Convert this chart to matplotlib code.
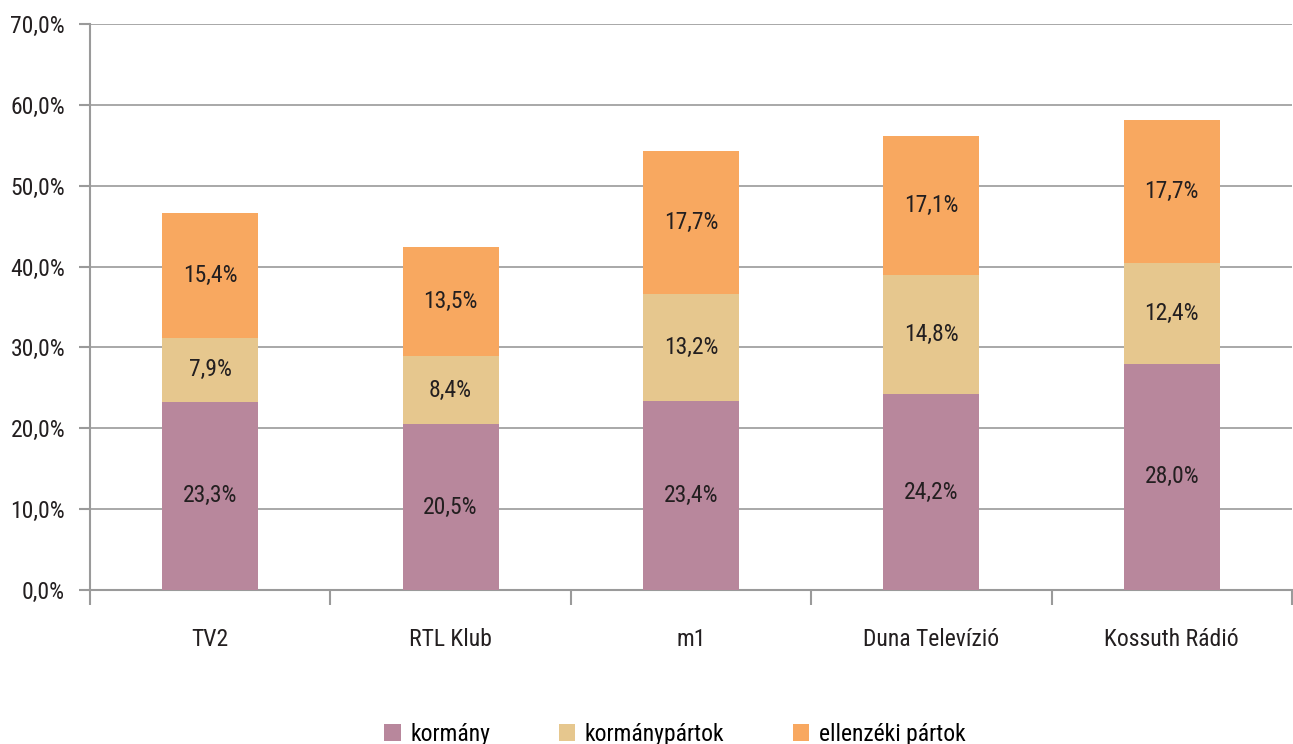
import matplotlib
matplotlib.use("Agg")
import matplotlib.pyplot as plt
import numpy as np
from matplotlib.ticker import FuncFormatter, MultipleLocator

plt.rcParams['font.family'] = ['Roboto Condensed', 'Archivo Narrow', 'PT Sans Narrow', 'Liberation Sans', 'DejaVu Sans']

categories = ["TV2", "RTL Klub", "m1", "Duna Televízió", "Kossuth Rádió"]
kormany = [23.3, 20.5, 23.4, 24.2, 28.0]
kormanypartok = [7.9, 8.4, 13.2, 14.8, 12.4]
ellenzeki = [15.4, 13.5, 17.7, 17.1, 17.7]
series_names = ["kormány", "kormánypártok", "ellenzéki pártok"]
colors = ["#B8879C", "#E6C78E", "#F8A860"]

FS = 17
TXT = '#231F20'

fig = plt.figure(figsize=(12.93, 7.44), dpi=100)
ax = fig.add_axes([90/1293, 1-590/744, 1202/1293, (590-24)/744])

x = np.arange(len(categories))
w = 0.4
bottom = np.zeros(len(categories))
for vals, name, col in zip([kormany, kormanypartok, ellenzeki], series_names, colors):
    vals = np.array(vals)
    ax.bar(x, vals, w, bottom=bottom, color=col, label=name, zorder=3)
    for xi, b, v in zip(x, bottom, vals):
        ax.text(xi, b + v/2, f"{v:.1f}%".replace('.', ','), ha='center', va='center',
                fontsize=FS, color=TXT, zorder=4)
    bottom += vals

ax.set_xlim(-0.5, len(categories)-0.5)
ax.set_ylim(0, 70)
ax.yaxis.set_major_locator(MultipleLocator(10))
ax.yaxis.set_major_formatter(FuncFormatter(lambda v, p: f"{v:.1f}%".replace('.', ',')))
ax.grid(axis='y', color='#9A9A9A', linewidth=1.2, zorder=0)
ax.set_axisbelow(True)
for s in ['top', 'right']:
    ax.spines[s].set_visible(False)
for s in ['left', 'bottom']:
    ax.spines[s].set_color('#9A9A9A')
    ax.spines[s].set_linewidth(1.5)

ax.set_xticks(x)
ax.set_xticklabels(categories, fontsize=FS, color=TXT)
ax.tick_params(axis='x', length=0, pad=27)
ax.set_xticks(np.arange(-0.5, len(categories), 1), minor=True)
ax.tick_params(axis='x', which='minor', length=11, color='#9A9A9A', width=1.5)
ax.tick_params(axis='y', length=8, color='#9A9A9A', width=1.5, labelsize=FS, labelcolor=TXT, pad=10)

handles, labels = ax.get_legend_handles_labels()
fig.legend(handles, labels, loc='center', bbox_to_anchor=(0.522, 1-734/744), ncol=3,
           frameon=False, fontsize=FS, handlelength=0.7, handleheight=0.7,
           handletextpad=0.4, columnspacing=2.9)

fig.savefig("out.png", dpi=100)
